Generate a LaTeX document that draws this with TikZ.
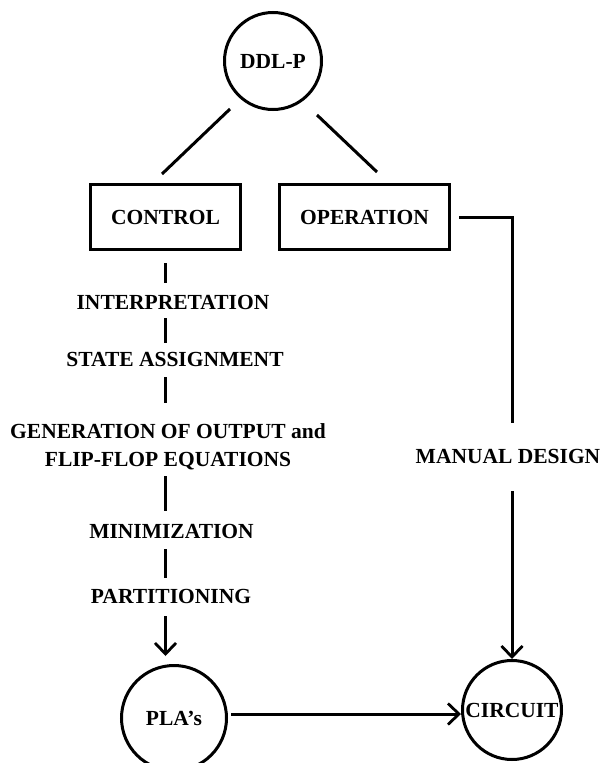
\documentclass[tikz,border=0pt]{standalone}
\usepackage{fontspec}
\setmainfont{Liberation Serif}
\usetikzlibrary{arrows.meta,calc}
\begin{document}
\begin{tikzpicture}[x=1pt,y=-1pt,
  every node/.style={font=\bfseries\fontsize{21.5}{28}\selectfont, inner sep=0pt, align=center},
  conn/.style={line width=3pt},
  arr/.style={conn,-{Straight Barb[length=11pt,width=21pt,line width=2.8pt]}},
  ring/.style={draw, circle, line width=3pt, minimum size=#1},
  blk/.style={draw, rectangle, line width=3pt, minimum height=65pt}
]
\useasboundingbox (0,0) rectangle (604,763);
% nodes
\node[ring=97pt] (ddlp) at (273,61) {DDL-P};
\node[blk, minimum width=150pt] (control) at (165.5,217) {CONTROL};
\node[blk, minimum width=170pt] (operation) at (364.5,217) {OPERATION};
\node (interp) at (173,302) {INTERPRETATION};
\node (state) at (175,359) {STATE ASSIGNMENT};
\node (gen) at (168,447) {GENERATION OF OUTPUT and\\FLIP-FLOP EQUATIONS};
\node (minim) at (171.5,531) {MINIMIZATION};
\node (part) at (171,596) {PARTITIONING};
\node[ring=105pt] (pla) at (174,718) {PLA's};
\node (manual) at (508,456) {MANUAL DESIGN};
\node[ring=99pt] (circuit) at (512,710) {CIRCUIT};
% connectors from DDL-P
\draw[conn] ($(ddlp.center)+(-43,48)$) -- ($(control.north)+(-3.5,-9)$);
\draw[conn] ($(ddlp.center)+(44,54)$) -- ($(operation.north)+(12.5,-11)$);
% control chain
\draw[conn, shorten <=12pt, shorten >=12pt] (control.south) -- (control.south |- interp.north);
\draw[conn, shorten <=9pt, shorten >=9pt] (control.south |- interp.south) -- (control.south |- state.north);
\draw[conn, shorten <=11pt, shorten >=21pt] (control.south |- state.south) -- (control.south |- gen.north);
\draw[conn, shorten <=6pt, shorten >=13pt] (control.south |- gen.south) -- (control.south |- minim.north);
\draw[conn, shorten <=11pt, shorten >=11pt] (control.south |- minim.south) -- (control.south |- part.north);
\draw[arr, shorten <=13pt, shorten >=8pt] (control.south |- part.south) -- (control.south |- pla.north);
% operation branch
\draw[conn, shorten <=8pt, shorten >=26pt] (operation.east) -| (circuit.north |- manual.north);
\draw[arr, shorten <=28pt] (circuit.north |- manual.south) -- (circuit.north);
% PLA to circuit
\draw[arr] ($(pla.east)+(3,-4)$) -- ($(circuit.west)+(0,4)$);
\end{tikzpicture}
\end{document}
